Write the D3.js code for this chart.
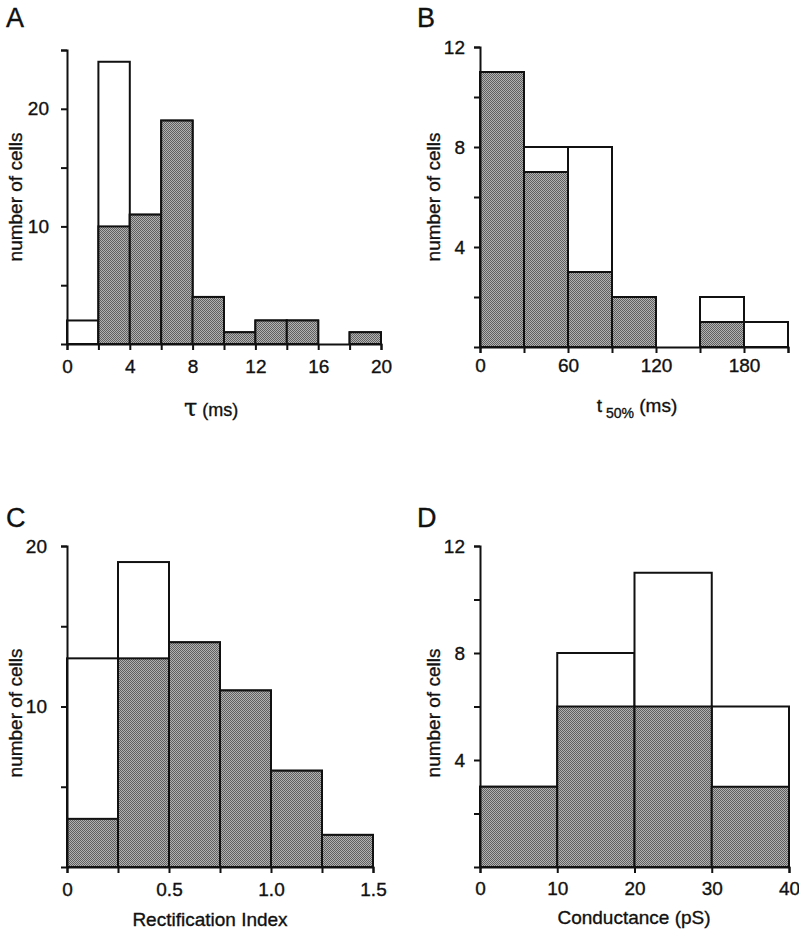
<!DOCTYPE html>
<html>
<head>
<meta charset="utf-8">
<script src="https://cdn.jsdelivr.net/npm/d3@7"></script>
<style>
  html, body { margin: 0; padding: 0; background: #fff; }
  svg { display: block; }
  text { font-family: "Liberation Sans", Arial, Helvetica, sans-serif; fill: #111; stroke: #111; stroke-width: 0.35px; }
</style>
</head>
<body>
<script>
// ---- Data ----
// Panel A: tau (ms), bin width 2
const tauBinStart = [0, 2, 4, 6, 8, 10, 12, 14, 16, 18];
const tauTotal    = [2, 24, 11, 19, 4, 1, 2, 2, 0, 1];
const tauFilled   = [0, 10, 11, 19, 4, 1, 2, 2, 0, 1];
const tauXTicks   = [0, 2, 4, 6, 8, 10, 12, 14, 16, 18, 20];
const tauXLabels  = [0, 4, 8, 12, 16, 20];
const tauYTicks   = [5, 10, 15, 20, 25];
const tauYLabels  = [10, 20];

// Panel B: t50% (ms), bin width 30
const t50BinStart = [0, 30, 60, 90, 120, 150, 180];
const t50Total    = [11, 8, 8, 2, 0, 2, 1];
const t50Filled   = [11, 7, 3, 2, 0, 1, 0];
const t50XTicks   = [0, 30, 60, 90, 120, 150, 180, 210];
const t50XLabels  = [0, 60, 120, 180];
const t50YTicks   = [2, 4, 6, 8, 10, 12];
const t50YLabels  = [4, 8, 12];

// Panel C: Rectification Index, bin width 0.25
const riBinStart = [0, 0.25, 0.5, 0.75, 1.0, 1.25];
const riTotal    = [13, 19, 14, 11, 6, 2];
const riFilled   = [3, 13, 14, 11, 6, 2];
const riXTicks   = [0, 0.25, 0.5, 0.75, 1.0, 1.25, 1.5];
const riXLabels  = [0, 0.5, 1.0, 1.5];
const riYTicks   = [5, 10, 15, 20];
const riYLabels  = [10, 20];

// Panel D: Conductance (pS), bin width 10
const gBinStart = [0, 10, 20, 30];
const gTotal    = [3, 8, 11, 6];
const gFilled   = [3, 6, 6, 3];
const gXTicks   = [0, 10, 20, 30, 40];
const gXLabels  = [0, 10, 20, 30, 40];
const gYTicks   = [2, 4, 6, 8, 10, 12];
const gYLabels  = [4, 8, 12];

const W = 799, H = 936;
const svg = d3.select("body").append("svg").attr("width", W).attr("height", H);

// halftone-like fill (2x2 checker of dark/light grey)
const defs = svg.append("defs");
const pat = defs.append("pattern").attr("id", "halftone")
  .attr("patternUnits", "userSpaceOnUse").attr("width", 2).attr("height", 2);
pat.append("rect").attr("width", 2).attr("height", 2).attr("fill", "#b2b2b2");
pat.append("rect").attr("x", 0).attr("y", 0).attr("width", 1).attr("height", 1).attr("fill", "#606060");
pat.append("rect").attr("x", 1).attr("y", 1).attr("width", 1).attr("height", 1).attr("fill", "#606060");
const fillGray = "url(#halftone)";

function panel(cfg) {
  const g = svg.append("g");
  const x = d3.scaleLinear().domain(cfg.xDomain).range(cfg.xRange);
  const y = d3.scaleLinear().domain(cfg.yDomain).range(cfg.yRange);

  const data = cfg.starts.map((s, i) => ({ s, e: s + cfg.binW, total: cfg.total[i], filled: cfg.filled[i] }));

  // open (total) bars
  g.selectAll("rect.open").data(data.filter(d => d.total > 0)).join("rect")
    .attr("class", "open")
    .attr("x", d => x(d.s)).attr("width", d => x(d.e) - x(d.s))
    .attr("y", d => y(d.total)).attr("height", d => y(0) - y(d.total))
    .attr("fill", "#fff").attr("stroke", "#111").attr("stroke-width", 2);

  // filled bars
  g.selectAll("rect.filled").data(data.filter(d => d.filled > 0)).join("rect")
    .attr("class", "filled")
    .attr("x", d => x(d.s)).attr("width", d => x(d.e) - x(d.s))
    .attr("y", d => y(d.filled)).attr("height", d => y(0) - y(d.filled))
    .attr("fill", fillGray).attr("stroke", "#111").attr("stroke-width", 2);

  // x axis
  const xAxis = d3.axisBottom(x).tickValues(cfg.xTicks).tickSizeOuter(0).tickSize(6).tickPadding(6)
    .tickFormat(v => cfg.xLabels.some(l => Math.abs(l - v) < 1e-9) ? cfg.xFmt(v) : "");
  const gx = g.append("g").attr("transform", `translate(0,${y(0)})`).call(xAxis);
  gx.select(".domain").attr("stroke", "#111").attr("stroke-width", 2);
  gx.selectAll(".tick line").attr("stroke", "#111").attr("stroke-width", 2);
  gx.selectAll(".tick text").attr("font-size", 19).attr("fill", "#111")
    .attr("font-family", "Liberation Sans, Arial, sans-serif").attr("dy", cfg.xdy);

  // y axis
  const yAxis = d3.axisLeft(y).tickValues(cfg.yTicks).tickSizeOuter(0).tickSize(6).tickPadding(cfg.yPad)
    .tickFormat(v => cfg.yLabels.includes(v) ? String(v) : "");
  const gy = g.append("g").attr("transform", `translate(${x(0)},0)`).call(yAxis);
  gy.select(".domain").attr("stroke", "#111").attr("stroke-width", 2);
  gy.selectAll(".tick line").attr("stroke", "#111").attr("stroke-width", 2);
  gy.selectAll(".tick text").attr("font-size", 19).attr("fill", "#111")
    .attr("font-family", "Liberation Sans, Arial, sans-serif");

  // y title
  g.append("text")
    .attr("transform", `translate(${cfg.yTitleX},${cfg.yTitleY}) rotate(-90)`)
    .attr("text-anchor", "middle").attr("font-size", 19)
    .text("number of cells");

  // panel letter
  g.append("text").attr("x", cfg.letterX).attr("y", cfg.letterY)
    .attr("font-size", 27).text(cfg.letter);

  return g;
}

const gA = panel({
  letter: "A", letterX: 6, letterY: 27,
  xDomain: [0, 20], xRange: [67, 381], yDomain: [0, 25], yRange: [344, 50],
  starts: tauBinStart, binW: 2, total: tauTotal, filled: tauFilled,
  xTicks: tauXTicks, xLabels: tauXLabels, xFmt: v => String(v), xdy: "0.9em",
  yTicks: tauYTicks, yLabels: tauYLabels, yPad: 12,
  yTitleX: 22, yTitleY: 197
});
const tA = gA.append("text").attr("x", 184).attr("y", 416).attr("text-anchor", "start");
tA.append("tspan").attr("font-family", "DejaVu Serif, Liberation Serif, serif").attr("font-size", 24).text("τ");
tA.append("tspan").attr("font-size", 18).text(" (ms)");

const gB = panel({
  letter: "B", letterX: 417, letterY: 27,
  xDomain: [0, 210], xRange: [480, 788], yDomain: [0, 12], yRange: [347, 47],
  starts: t50BinStart, binW: 30, total: t50Total, filled: t50Filled,
  xTicks: t50XTicks, xLabels: t50XLabels, xFmt: v => String(v), xdy: "0.71em",
  yTicks: t50YTicks, yLabels: t50YLabels, yPad: 9,
  yTitleX: 440, yTitleY: 197
});
const tB = gB.append("text").attr("x", 637).attr("y", 412).attr("text-anchor", "middle").attr("font-size", 19);
tB.append("tspan").text("t");
tB.append("tspan").attr("font-size", 14).attr("dy", 6).text(" 50%");
tB.append("tspan").attr("dy", -6).text(" (ms)");

const gC = panel({
  letter: "C", letterX: 6, letterY: 527,
  xDomain: [0, 1.5], xRange: [67, 373], yDomain: [0, 20], yRange: [867, 546],
  starts: riBinStart, binW: 0.25, total: riTotal, filled: riFilled,
  xTicks: riXTicks, xLabels: riXLabels, xFmt: v => v === 0 ? "0" : d3.format(".1f")(v), xdy: "0.9em",
  yTicks: riYTicks, yLabels: riYLabels, yPad: 14,
  yTitleX: 22, yTitleY: 713
});
gC.append("text").attr("x", 210).attr("y", 926).attr("text-anchor", "middle").attr("font-size", 19)
  .text("Rectification Index");

const gD = panel({
  letter: "D", letterX: 417, letterY: 527,
  xDomain: [0, 40], xRange: [480, 789], yDomain: [0, 12], yRange: [867, 546],
  starts: gBinStart, binW: 10, total: gTotal, filled: gFilled,
  xTicks: gXTicks, xLabels: gXLabels, xFmt: v => String(v), xdy: "0.85em",
  yTicks: gYTicks, yLabels: gYLabels, yPad: 9,
  yTitleX: 440, yTitleY: 713
});
gD.append("text").attr("x", 634).attr("y", 924).attr("text-anchor", "middle").attr("font-size", 19)
  .text("Conductance (pS)");
</script>
</body>
</html>
